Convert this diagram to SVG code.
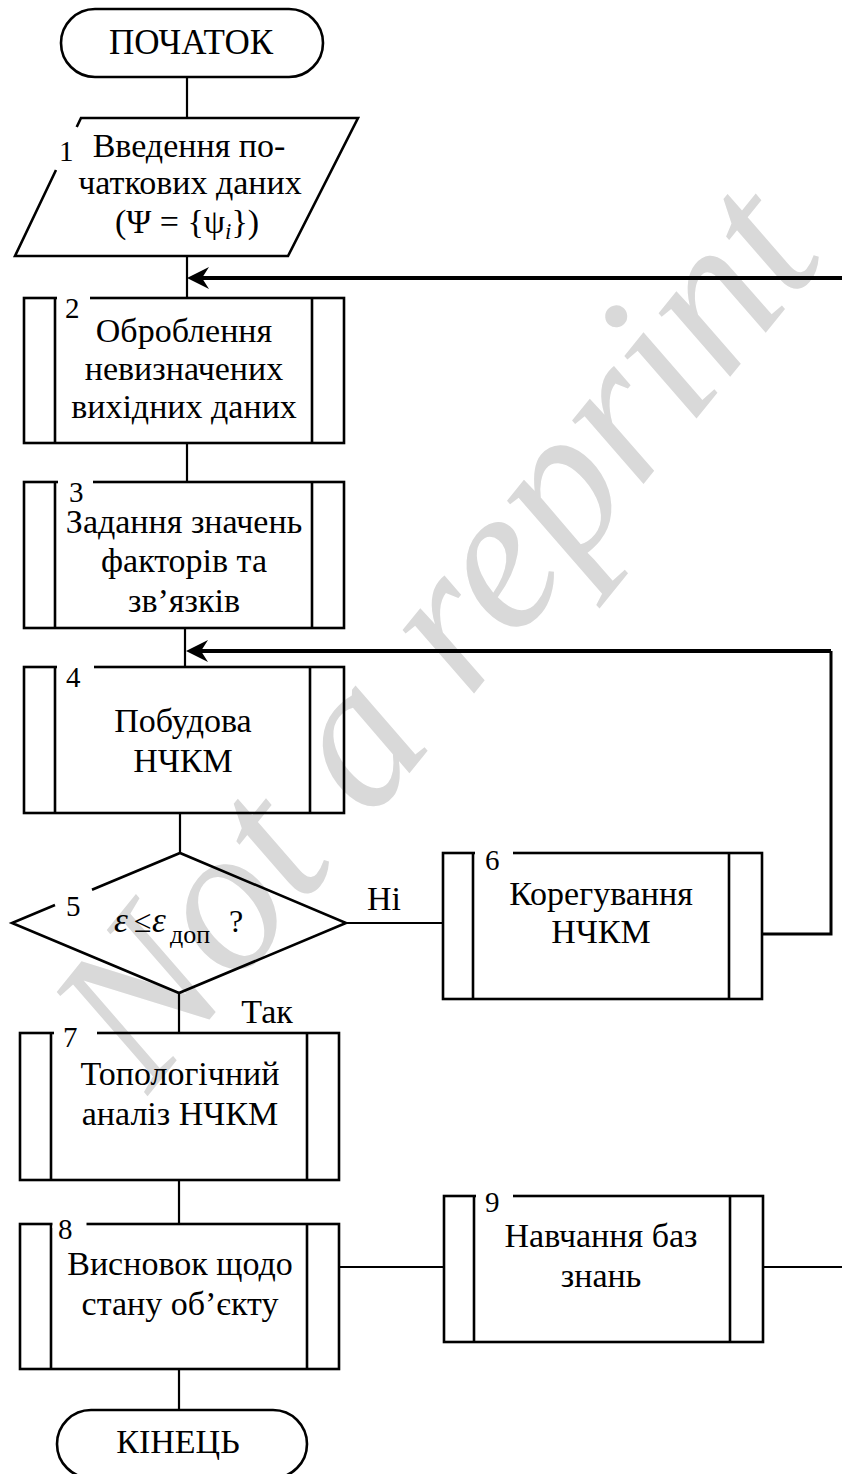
<svg xmlns="http://www.w3.org/2000/svg" width="842" height="1474" viewBox="0 0 842 1474">
  <style>
    .t { font-family: "Liberation Serif", "Times New Roman", serif; font-size: 34px; fill: #000; text-anchor: middle; }
    .lbl { font-family: "Liberation Serif", "Times New Roman", serif; font-size: 29px; fill: #000; }
    .m { font-family: "Liberation Serif", "Times New Roman", serif; font-size: 32px; fill: #000; }
    .shape { fill: none; stroke: #000; stroke-width: 2.6; }
    .line { fill: none; stroke: #000; stroke-width: 2.2; }
    .thick { fill: none; stroke: #000; stroke-width: 4; }
    .mid { fill: none; stroke: #000; stroke-width: 3; }
    .gap { fill: #fff; stroke: none; }
    .wm { font-family: "Liberation Serif", "Times New Roman", serif; font-style: italic; font-size: 208px; fill: #d9d9d9; text-anchor: middle; }
  </style>
  <defs>
    <marker id="arr" markerUnits="userSpaceOnUse" orient="auto" refX="0" refY="0" markerWidth="30" markerHeight="30" overflow="visible">
      <path d="M14,0 L-8,-11 L-1,0 L-8,11 Z" fill="#000"/>
    </marker>
  </defs>
  <rect x="0" y="0" width="842" height="1474" fill="#fff"/>

  <text class="wm" x="488" y="676" transform="rotate(-51 488 676)">Not a reprint</text>

  <g id="connectors">
    <line class="line" x1="187" y1="77" x2="187" y2="118"/>
    <line class="line" x1="187" y1="256" x2="187" y2="298"/>
    <line class="line" x1="187" y1="443" x2="187" y2="482"/>
    <line class="line" x1="185" y1="628" x2="185" y2="667"/>
    <line class="line" x1="180" y1="813" x2="180" y2="853"/>
    <line class="line" x1="179" y1="993" x2="179" y2="1033"/>
    <line class="line" x1="179" y1="1180" x2="179" y2="1224"/>
    <line class="line" x1="179" y1="1369" x2="179" y2="1410"/>
    <line class="line" x1="346" y1="923" x2="443" y2="923"/>
    <line class="line" x1="339" y1="1267" x2="444" y2="1267"/>
    <line class="line" x1="763" y1="1267" x2="842" y2="1267"/>
    <path class="thick" d="M842,278 L201,278" marker-end="url(#arr)"/>
    <path class="mid" d="M762,934 L831,934 L831,651"/>
    <path class="thick" d="M831,651 L200,651" marker-end="url(#arr)"/>
    <text class="t" x="384" y="910">Ні</text>
    <text class="t" x="267" y="1023">Так</text>
  </g>

  <g id="start">
    <rect class="shape" x="61" y="9" width="262" height="68" rx="34" ry="34"/>
    <text class="t" x="191" y="54" style="font-size:35px">ПОЧАТОК</text>
  </g>

  <g id="node1">
    <path class="shape" d="M76.7,127 L81,118 L358,118 L288,256 L15,256 L56,170"/>
    <text class="lbl" x="59" y="161">1</text>
    <text class="t" x="189" y="157">Введення по-</text>
    <text class="t" x="190" y="194">чаткових даних</text>
    <text class="t" x="187" y="233">(Ψ = {ψ<tspan font-style="italic" font-size="23" dy="6">i</tspan><tspan dy="-6">})</tspan></text>
  </g>

  <g id="node2">
    <rect class="shape" x="24" y="298" width="320" height="145"/>
    <line class="shape" x1="55" y1="298" x2="55" y2="443"/>
    <line class="shape" x1="312" y1="298" x2="312" y2="443"/>
    <rect class="gap" x="57" y="294" width="33" height="8"/>
    <text class="lbl" x="65" y="318">2</text>
    <text class="t" x="184" y="342">Оброблення</text>
    <text class="t" x="184" y="380">невизначених</text>
    <text class="t" x="184" y="418">вихідних даних</text>
  </g>

  <g id="node3">
    <rect class="shape" x="24" y="482" width="320" height="146"/>
    <line class="shape" x1="55" y1="482" x2="55" y2="628"/>
    <line class="shape" x1="312" y1="482" x2="312" y2="628"/>
    <rect class="gap" x="58" y="478" width="35" height="8"/>
    <text class="lbl" x="69" y="502">3</text>
    <text class="t" x="184" y="533">Задання значень</text>
    <text class="t" x="184" y="572">факторів та</text>
    <text class="t" x="184" y="612">зв’язків</text>
  </g>

  <g id="node4">
    <rect class="shape" x="24" y="667" width="320" height="146"/>
    <line class="shape" x1="55" y1="667" x2="55" y2="813"/>
    <line class="shape" x1="310" y1="667" x2="310" y2="813"/>
    <rect class="gap" x="57" y="663" width="37" height="8"/>
    <text class="lbl" x="66" y="687">4</text>
    <text class="t" x="183" y="732">Побудова</text>
    <text class="t" x="183" y="772">НЧКМ</text>
  </g>

  <g id="node5">
    <path class="shape" d="M92,889.7 L180,853 L346,923 L179,993 L12,923 L55,905"/>
    <text class="lbl" x="66" y="916">5</text>
    <text class="m" x="114" y="932" font-style="italic" style="font-size:35px">ε</text>
    <text class="m" x="134" y="932">≤</text>
    <text class="m" x="152" y="932" font-style="italic" style="font-size:35px">ε</text>
    <text class="m" x="170" y="943" style="font-size:26px">доп</text>
    <text class="m" x="229" y="932">?</text>
  </g>

  <g id="node6">
    <rect class="shape" x="443" y="853" width="319" height="146"/>
    <line class="shape" x1="473" y1="853" x2="473" y2="999"/>
    <line class="shape" x1="729" y1="853" x2="729" y2="999"/>
    <rect class="gap" x="475" y="849" width="38" height="8"/>
    <text class="lbl" x="485" y="870">6</text>
    <text class="t" x="601" y="905">Корегування</text>
    <text class="t" x="601" y="943">НЧКМ</text>
  </g>

  <g id="node7">
    <rect class="shape" x="20" y="1033" width="319" height="147"/>
    <line class="shape" x1="51" y1="1033" x2="51" y2="1180"/>
    <line class="shape" x1="307" y1="1033" x2="307" y2="1180"/>
    <rect class="gap" x="54" y="1029" width="43" height="8"/>
    <text class="lbl" x="63" y="1047">7</text>
    <text class="t" x="180" y="1085">Топологічний</text>
    <text class="t" x="180" y="1125">аналіз НЧКМ</text>
  </g>

  <g id="node8">
    <rect class="shape" x="20" y="1224" width="319" height="145"/>
    <line class="shape" x1="51" y1="1224" x2="51" y2="1369"/>
    <line class="shape" x1="307" y1="1224" x2="307" y2="1369"/>
    <rect class="gap" x="52.5" y="1220" width="34" height="8"/>
    <text class="lbl" x="58" y="1239">8</text>
    <text class="t" x="180" y="1275">Висновок щодо</text>
    <text class="t" x="180" y="1315">стану об’єкту</text>
  </g>

  <g id="node9">
    <rect class="shape" x="444" y="1196" width="319" height="146"/>
    <line class="shape" x1="474" y1="1196" x2="474" y2="1342"/>
    <line class="shape" x1="730" y1="1196" x2="730" y2="1342"/>
    <rect class="gap" x="476" y="1192" width="37" height="8"/>
    <text class="lbl" x="485" y="1212">9</text>
    <text class="t" x="601" y="1247">Навчання баз</text>
    <text class="t" x="601" y="1287">знань</text>
  </g>

  <g id="end">
    <rect class="shape" x="57" y="1410" width="250" height="68" rx="34" ry="34"/>
    <text class="t" x="178" y="1453">КІНЕЦЬ</text>
  </g>
</svg>
